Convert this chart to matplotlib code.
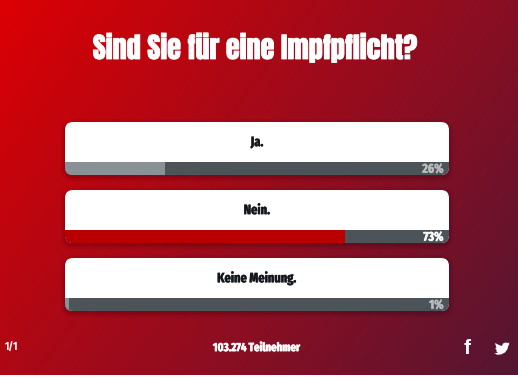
import numpy as np
import matplotlib
matplotlib.use('Agg')
from matplotlib import pyplot as plt
from matplotlib.patches import FancyBboxPatch, Polygon
import matplotlib.patheffects as pe

title = 'Sind Sie für eine Impfpflicht?'
answers = ['Ja.', 'Nein.', 'Keine Meinung.']
percents = [26, 73, 1]
fill_colors = ['#8a9196', '#b80000', '#8a9196']
label_colors = ['#b9bdc0', '#ffffff', '#b9bdc0']
page_label = '1/1'
participants = '103.274 Teilnehmer'

W, H = 518, 378
plt.rcParams['font.family'] = ['Fira Sans Extra Condensed', 'Barlow Condensed', 'Liberation Sans', 'DejaVu Sans']

fig = plt.figure(figsize=(W / 100, H / 100), dpi=100, facecolor='white')
ax = fig.add_axes([0, 0, 1, 1])
ax.set_xlim(0, W)
ax.set_ylim(H, 0)
ax.axis('off')

# Hintergrund, diagonaler Verlauf
xx, yy = np.meshgrid(np.linspace(0, 1, 259), np.linspace(0, 1, 188))
t = np.clip((xx * 518 + yy * 375 * 0.75) / (518 + 375 * 0.75), 0, 1)
c0 = np.array([220, 0, 3]) / 255
c1 = np.array([139, 14, 34]) / 255
c2 = np.array([84, 22, 50]) / 255
rgb = np.where(t[..., None] < 0.62,
               c0 + (c1 - c0) * (t[..., None] / 0.62),
               c1 + (c2 - c1) * ((t[..., None] - 0.62) / 0.38))
ax.imshow(rgb, extent=[0, W, 375, 0], aspect='auto', zorder=0)
ax.set_xlim(0, W)
ax.set_ylim(H, 0)

ax.text(255.5, 47.5, title, color='white', fontsize=20.3, ha='center', va='center',
        family=['Anton', 'Fira Sans Extra Condensed', 'Liberation Sans', 'DejaVu Sans'],
        path_effects=[pe.withStroke(linewidth=0.6, foreground='white')])

left, right = 65, 449
tops = [122, 190, 258]
card_h, strip_h = 53, 13

for top, answer, pct, col, lab in zip(tops, answers, percents, fill_colors, label_colors):
    # Schatten
    for grow, alpha in [(5, 0.02), (3.5, 0.04), (2, 0.05), (1, 0.05)]:
        ax.add_patch(FancyBboxPatch((left + 8, top + 10), right - left - 16, card_h - 16,
                                    boxstyle='round,pad=%g,rounding_size=%g' % (8 + grow, 8 + grow),
                                    fc='black', ec='none', alpha=alpha, zorder=1))
    card = FancyBboxPatch((left + 8, top + 8), right - left - 16, card_h - 16,
                          boxstyle='round,pad=8,rounding_size=8', fc='white', ec='none', zorder=2)
    ax.add_patch(card)
    ax.text((left + right) / 2, top + 20, answer, color='#14181c', fontsize=9.7, fontweight=700,
            ha='center', va='center', zorder=5,
            path_effects=[pe.withStroke(linewidth=0.3, foreground='#14181c')])

    # Balken, Skala 0-100
    bar_ax = fig.add_axes([left / W, 1 - (top + card_h) / H, (right - left) / W, strip_h / H])
    bar_ax.set_xlim(0, 100)
    bar_ax.set_ylim(0, 1)
    bar_ax.axis('off')
    track = bar_ax.barh(0.5, 100, height=1, color='#4c545a', zorder=1)
    fill = bar_ax.barh(0.5, pct, height=1, color=col, zorder=2)
    clip = FancyBboxPatch((left + 8, top + 8), right - left - 16, card_h - 16,
                          boxstyle='round,pad=8,rounding_size=8', transform=ax.transData)
    for b in list(track) + list(fill):
        b.set_clip_path(clip)
    bar_ax.text(98.6, 0.45, '%d%%' % pct, color=lab, fontsize=9.3, fontweight=700,
                ha='right', va='center', zorder=3,
                path_effects=[pe.withStroke(linewidth=0.3, foreground=lab)])

ax.text(4, 347.5, page_label, color='white', fontsize=8, fontweight=700, ha='left', va='center')
ax.text(256.5, 347.5, participants, color='white', fontsize=8.5, fontweight=700, ha='center', va='center',
        path_effects=[pe.withStroke(linewidth=0.4, foreground='white')])
ax.text(467.5, 349, 'f', color='white', fontsize=15, fontweight=700, ha='center', va='center', family=['Liberation Sans', 'DejaVu Sans'])

# Twitter-Vogel, grob
bird = [(495, 343), (499, 345), (502, 346), (503, 343.5), (505.5, 342.5), (507.5, 343), (509.5, 342.5),
        (508.5, 344.5), (509.5, 344.3), (508.3, 345.8), (507.5, 349), (505, 352.5), (501, 354.5),
        (497, 354.7), (494.5, 353.2), (498, 352.8), (495.8, 350.8), (497, 350.5), (495, 348), (496.5, 348.2)]
ax.add_patch(Polygon(bird, closed=True, fc='white', ec='none', zorder=5))

fig.savefig('out.png', dpi=100, facecolor='white')
